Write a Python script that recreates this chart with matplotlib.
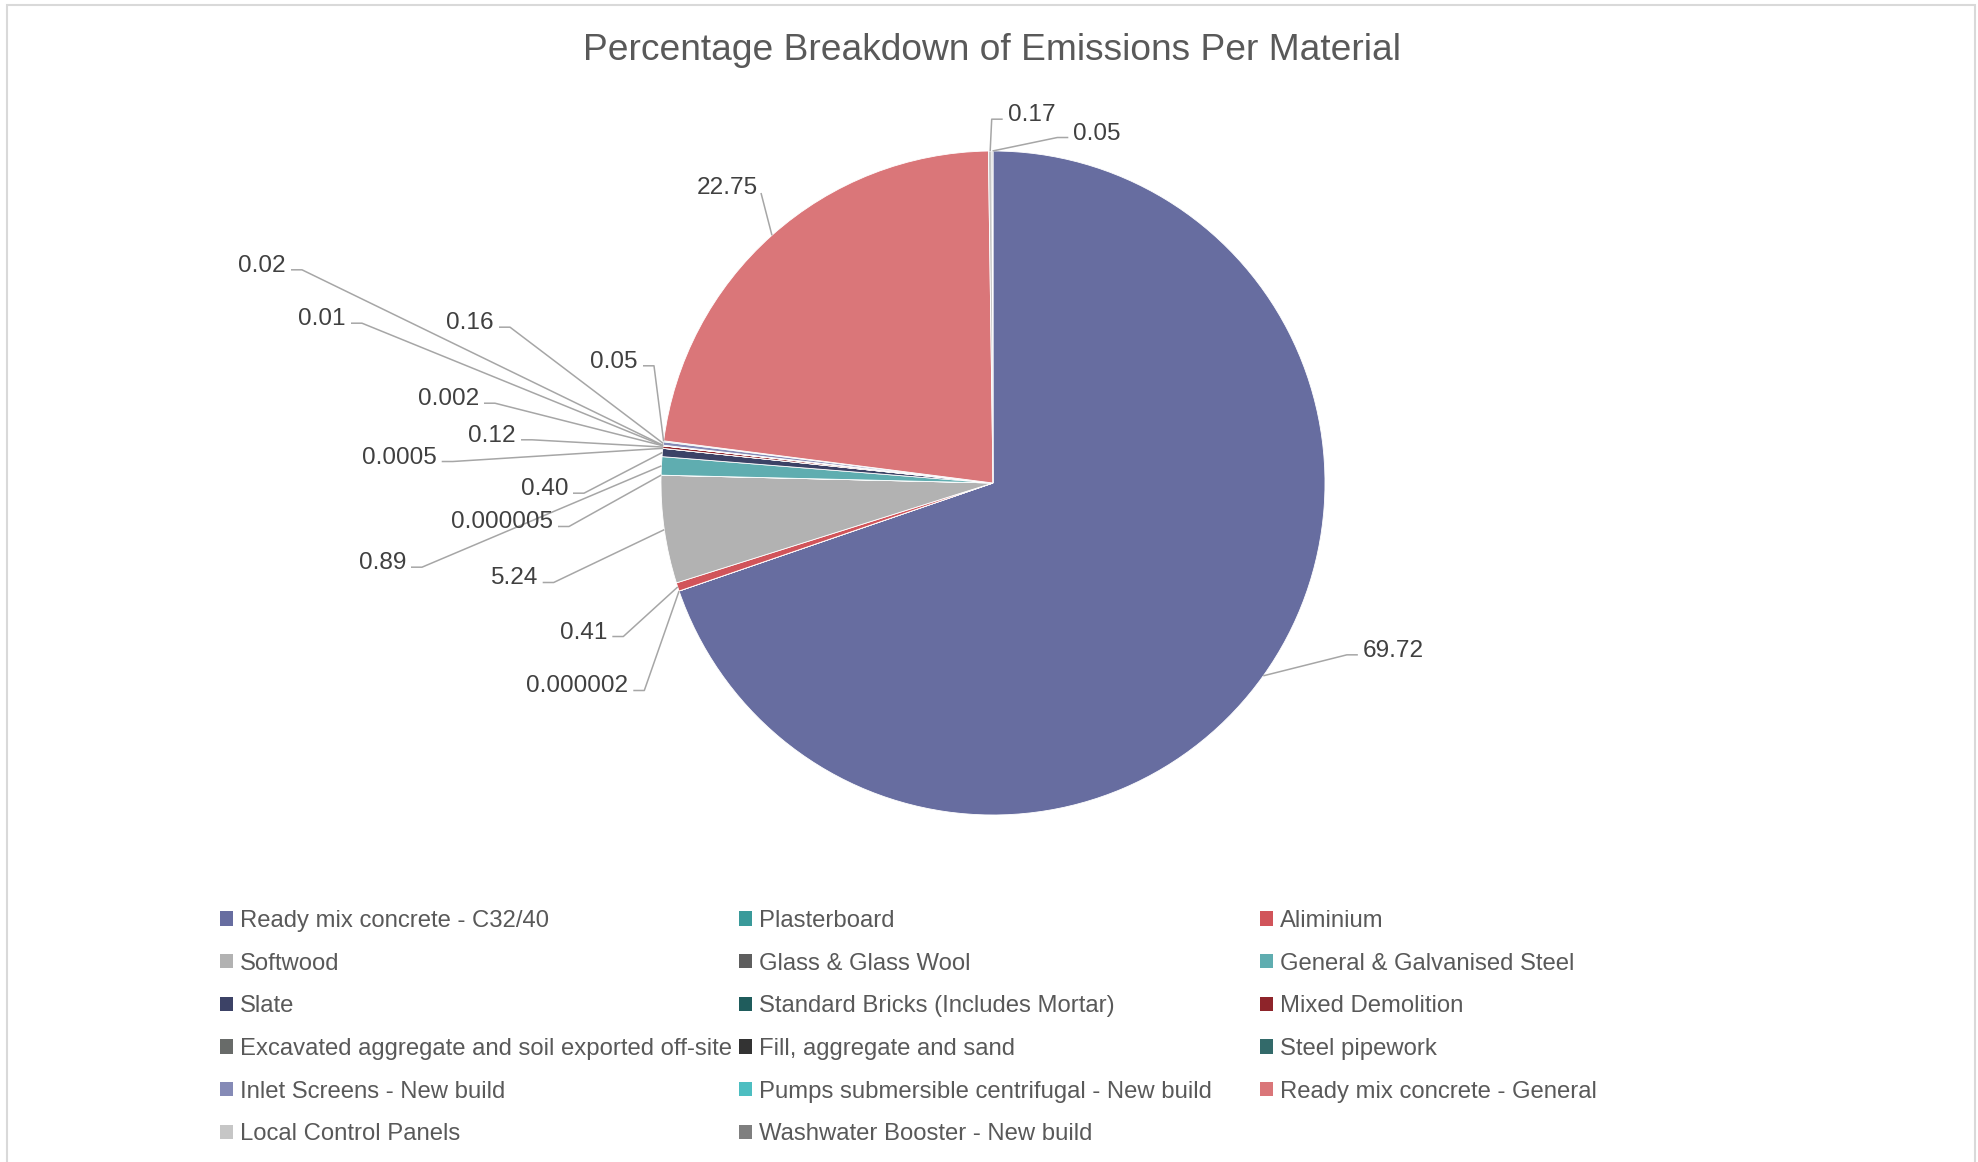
import matplotlib
matplotlib.use("Agg")
import matplotlib.pyplot as plt
from matplotlib.patches import Patch, Rectangle
import numpy as np

# ---------------- data ----------------
materials = [
    "Ready mix concrete - C32/40",
    "Plasterboard",
    "Aliminium",
    "Softwood",
    "Glass & Glass Wool",
    "General & Galvanised Steel",
    "Slate",
    "Standard Bricks (Includes Mortar)",
    "Mixed Demolition",
    "Excavated aggregate and soil exported off-site",
    "Fill, aggregate and sand",
    "Steel pipework",
    "Inlet Screens - New build",
    "Pumps submersible centrifugal - New build",
    "Ready mix concrete - General",
    "Local Control Panels",
    "Washwater Booster - New build",
]
emissions_pct = [69.72, 0.000002, 0.41, 5.24, 0.000005, 0.89, 0.40, 0.0005,
                 0.12, 0.002, 0.01, 0.02, 0.16, 0.05, 22.75, 0.17, 0.05]

colors = ["#676DA0", "#3A9A9A", "#D1545A", "#B2B2B2", "#5E5E5E", "#5FADB0",
          "#3C4266", "#1F5C5C", "#8E242A", "#686B69", "#333333", "#336A6A",
          "#858AB6", "#4DBEC1", "#DA7679", "#C6C6C6", "#7F7F7F"]

title = "Percentage Breakdown of Emissions Per Material"

# ---------------- layout (label anchors, in pie-radius units) ----------------
label_pos = [(1.114, -0.498), (-1.0985, -0.6054), (-1.1617, -0.4428),
             (-1.3714, -0.2801), (-1.3253, -0.1114), (-1.7681, -0.2340),
             (-1.2801, -0.0111), (-1.6756, 0.0843), (-1.4367, 0.1497),
             (-1.5482, 0.2599), (-1.9488, 0.5009), (-2.1295, 0.6617),
             (-1.5030, 0.4889), (-1.0693, 0.3726), (-0.8012, 0.8946),
             (0.0443, 1.1154), (0.2419, 1.0602)]
label_side = ["left", "right", "right", "right", "right", "right", "right",
              "right", "right", "right", "right", "right", "right", "right",
              "center", "left", "left"]


def fmt(v):
    if v >= 0.01:
        return f"{v:.2f}"
    return f"{v:.6f}".rstrip("0")


plt.rcParams["font.family"] = ["Liberation Sans", "DejaVu Sans"]

W, H = 1978, 1162
CX, CY, R = 993, 483, 332

fig = plt.figure(figsize=(W / 100, H / 100), dpi=100)
ax = fig.add_axes([0, 0, 1, 1])

wedges, _ = ax.pie(emissions_pct, colors=colors, startangle=90,
                   counterclock=False, radius=1, center=(0, 0),
                   wedgeprops=dict(edgecolor="white", linewidth=0.6))
ax.set_xlim(-CX / R, (W - CX) / R)
ax.set_ylim(-(H - CY) / R, CY / R)
ax.set_aspect("auto")
ax.axis("off")

line_col = "#A6A6A6"
gap, seg, dy = 5 / R, 11 / R, 6.5 / R
text_shift = 2.5 / R
for w, v, (tx, ty), side in zip(wedges, emissions_pct, label_pos, label_side):
    ang = np.deg2rad((w.theta1 + w.theta2) / 2)
    ex, ey = np.cos(ang), np.sin(ang)
    if side == "right":
        xs = [tx + gap, tx + gap + seg, ex]
        ys = [ty - dy, ty - dy, ey]
    elif side == "left":
        xs = [tx - gap, tx - gap - seg, ex]
        ys = [ty - dy, ty - dy, ey]
    else:
        xs = [tx + 34 / R, ex]
        ys = [ty - 7 / R, ey]
    ax.plot(xs, ys, color=line_col, lw=1.1, solid_capstyle="butt", zorder=1)
    ax.text(tx, ty - text_shift, fmt(v), ha=side, va="center", fontsize=17.6,
            color="#404040", zorder=3)

fig.text(991.6 / W, 1 - 50 / H, title, ha="center", va="center",
         fontsize=26.7, color="#595959")

# legend: three columns, row-major order as in the reference
handles = [Patch(facecolor=c, edgecolor="none") for c in colors]
col_x = [220 / W, 739 / W, 1260 / W]
for j in range(3):
    idx = list(range(j, len(materials), 3))
    leg = fig.legend([handles[i] for i in idx], [materials[i] for i in idx],
                     loc="upper left", bbox_to_anchor=(col_x[j], 1 - 910 / H),
                     frameon=False, fontsize=17.2, handlelength=0.55,
                     handleheight=0.55, handletextpad=0.28, labelspacing=0.865,
                     borderpad=0, borderaxespad=0)
    for t in leg.get_texts():
        t.set_color("#595959")

fig.patches.append(Rectangle((6.5 / W, -0.02), (1975 - 6.5) / W, 1.02 - 4.5 / H,
                             transform=fig.transFigure, fill=False,
                             edgecolor="#D9D9D9", lw=1.5))

fig.savefig("out.png", dpi=100)
